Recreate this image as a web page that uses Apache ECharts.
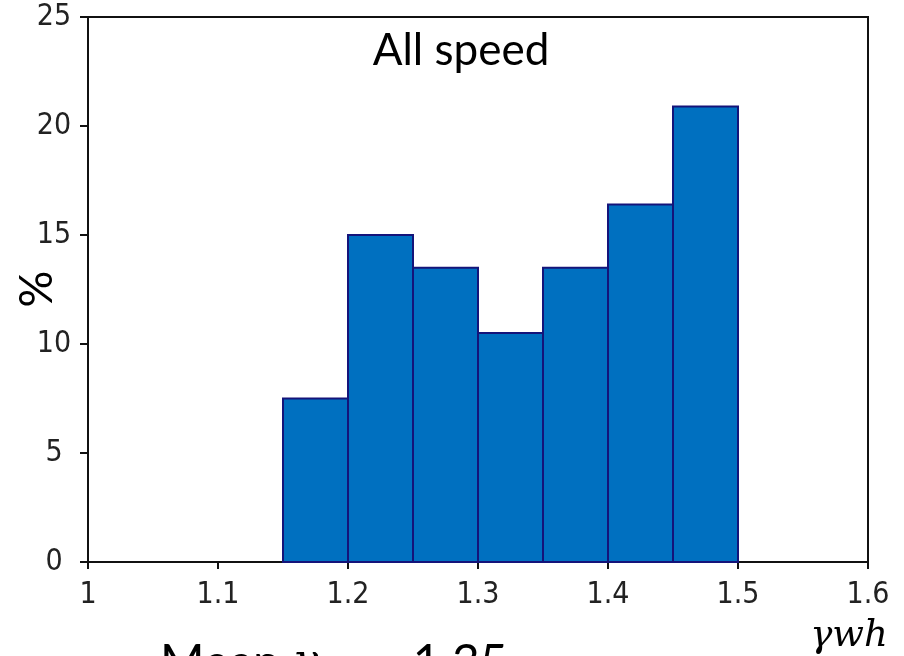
<!DOCTYPE html>
<html>
<head>
<meta charset="utf-8">
<script src="https://cdn.jsdelivr.net/npm/echarts@6/dist/echarts.min.js"></script>
<style>html,body{margin:0;padding:0;background:#fff;}#c{width:904px;height:656px;}</style>
</head>
<body>
<div id="c"></div>
<script>
const binStarts = [1.15, 1.20, 1.25, 1.30, 1.35, 1.40, 1.45];
const binEnds   = [1.20, 1.25, 1.30, 1.35, 1.40, 1.45, 1.50];
const percents  = [7.5, 15.0, 13.5, 10.5, 13.5, 16.4, 20.9];
const xTicks = [1, 1.1, 1.2, 1.3, 1.4, 1.5, 1.6];
const yTicks = [0, 5, 10, 15, 20, 25];
const titleText = 'All speed';
const yName = '%';

const chart = echarts.init(document.getElementById('c'));
const tickFont = '"DejaVu Sans Condensed", sans-serif';
chart.setOption({
  animation: false,
  grid: { left: 88, right: 36, top: 17, bottom: 94, show: true, borderColor: '#111', borderWidth: 2, containLabel: false },
  xAxis: {
    type: 'value', min: xTicks[0], max: xTicks[xTicks.length - 1], interval: 0.1,
    axisLine: { show: true, lineStyle: { color: '#111', width: 2 } },
    axisTick: { show: true, inside: false, length: 7, lineStyle: { color: '#111', width: 2 } },
    splitLine: { show: false },
    axisLabel: { color: '#222', fontFamily: tickFont, fontSize: 30, margin: 18,
      formatter: v => { const t = xTicks.find(x => Math.abs(x - v) < 1e-6); return t === undefined ? '' : String(t); } }
  },
  yAxis: {
    type: 'value', min: yTicks[0], max: yTicks[yTicks.length - 1], interval: 5,
    axisLine: { show: true, lineStyle: { color: '#111', width: 2 } },
    axisTick: { show: true, inside: false, length: 8, lineStyle: { color: '#111', width: 2 } },
    splitLine: { show: false },
    axisLabel: { color: '#222', fontFamily: tickFont, fontSize: 30, margin: 34, align: 'center' }
  },
  graphic: [
    { type: 'text', x: 461, y: 51, style: { text: titleText, fontFamily: 'Lato', fontSize: 44, fill: '#000', align: 'center', verticalAlign: 'middle' } },
    { type: 'text', x: 37, y: 289, rotation: Math.PI / 2, style: { text: yName, fontFamily: 'Lato', fontSize: 46, fill: '#000', align: 'center', verticalAlign: 'middle' } },
    { type: 'text', x: 849, y: 636, style: { text: 'γwh', fontFamily: 'DejaVu Serif', fontStyle: 'italic', fontSize: 37, fill: '#000', align: 'center', verticalAlign: 'middle' } },
    { type: 'text', x: 160, y: 635, style: { text: 'Mean {g|γ}{s|wh} = 1.35', fontFamily: 'Lato', fontSize: 48, fill: '#000', verticalAlign: 'top',
        rich: { g: { fontFamily: 'DejaVu Serif', fontStyle: 'italic', fontSize: 44 }, s: { fontFamily: 'DejaVu Serif', fontStyle: 'italic', fontSize: 28, padding: [30, 0, 0, 0] } } } }
  ],
  series: [{
    type: 'custom',
    data: binStarts.map((s, i) => [s, binEnds[i], percents[i]]),
    encode: { x: [0, 1], y: 2 },
    renderItem: function (params, api) {
      const p0 = api.coord([api.value(0), 0]);
      const p1 = api.coord([api.value(1), api.value(2)]);
      return {
        type: 'rect',
        shape: { x: p0[0], y: p1[1], width: p1[0] - p0[0], height: p0[1] - p1[1] },
        style: { fill: '#0070C0', stroke: '#14147a', lineWidth: 2 }
      };
    }
  }]
});
</script>
</body>
</html>
